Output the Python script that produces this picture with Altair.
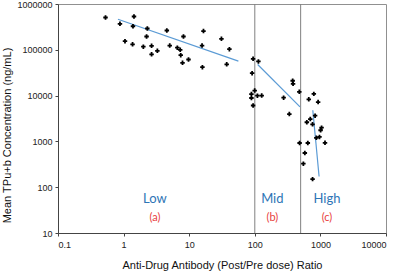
import altair as alt
import pandas as pd

# Low group points
low_x = [0.53, 0.88, 1.44, 1.39, 2.30, 4.56, 16.5, 8.18, 2.24, 31.0, 1.05, 1.37, 2.00,
         2.67, 5.05, 6.59, 7.29, 15.7, 41.0, 3.27, 2.67, 7.43, 9.76, 7.91, 15.9, 37.3]
low_y = [507000, 370000, 533000, 327000, 292000, 264000, 257000, 195000, 195000, 174000,
         154000, 132000, 117000, 122000, 124000, 111000, 100000, 124000, 103000, 95000,
         79800, 76200, 61400, 52000, 41700, 48200]
# Mid group points
mid_x = [94.2, 113.5, 91.0, 99.6, 88.8, 88.8, 109.6, 127.4, 94.2, 275, 378, 383, 477, 336]
mid_y = [63500, 55600, 30800, 12900, 10800, 8870, 9950, 10000, 6080, 9000, 21100, 18100,
         12100, 3960]
# High group points
high_x = [794, 665, 923, 830, 701, 621, 759, 1042, 1007, 867, 968, 482, 643, 1175, 579, 550, 760]
high_y = [10900, 8300, 7240, 3640, 3080, 2620, 2360, 1990, 1750, 1200, 1250, 923, 923, 931,
          558, 326, 150]

# Trend line segments (start, end)
trend_group = ["Low", "Low", "Mid", "Mid", "High", "High"]
trend_x = [0.82, 56.2, 110.6, 489, 766, 955]
trend_y = [465000, 56400, 47700, 5690, 4800, 171]

# Boundaries
bound_x = [100, 500]

# Region labels
region_names = ["Low", "Mid", "High"]
region_letters = ["(a)", "(b)", "(c)"]
region_x = [3.0, 185, 1259]
name_y = [56.6, 56.6, 56.6]
letter_y = [21.5, 21.5, 21.5]

x_ticks = [0.1, 1, 10, 100, 1000, 10000]
y_ticks = [10, 100, 1000, 10000, 100000, 1000000]

pts = pd.DataFrame({"x": low_x + mid_x + high_x, "y": low_y + mid_y + high_y})
trend = pd.DataFrame({"g": trend_group, "x": trend_x, "y": trend_y})
bounds = pd.DataFrame({"x": bound_x})
names = pd.DataFrame({"x": region_x, "y": name_y, "t": region_names})
letters = pd.DataFrame({"x": region_x, "y": letter_y, "t": region_letters})

FONT = "Liberation Sans"

xscale = alt.Scale(type="log", domain=[0.1, 10000], nice=False)
yscale = alt.Scale(type="log", domain=[10, 1000000], nice=False)

xax = alt.Axis(values=x_ticks, labelExpr="toString(datum.value)", grid=False,
               title="Anti-Drug Antibody (Post/Pre dose) Ratio", titleFont=FONT,
               titleFontSize=11, titleFontWeight="normal", titleColor="#111",
               labelFont=FONT, labelFontSize=9, labelColor="#222", tickSize=3,
               tickColor="#444", domainColor="#444", titlePadding=10, labelPadding=4)
yax = alt.Axis(values=y_ticks, labelExpr="toString(datum.value)", grid=False,
               title="Mean TPu+b Concentration (ng/mL)", titleFont=FONT,
               titleFontSize=11, titleFontWeight="normal", titleColor="#111",
               titleX=-46, titleY=131, titleAngle=-90, titleAlign="center",
               titleBaseline="bottom",
               labelFont=FONT, labelFontSize=9, labelColor="#222", tickSize=3,
               tickColor="#444", domainColor="#444", labelPadding=3)

rules = alt.Chart(bounds).mark_rule(color="#808080", strokeWidth=1).encode(
    x=alt.X("x:Q", scale=xscale, axis=xax))

lines = alt.Chart(trend).mark_line(color="#5B9BD5", strokeWidth=1.2).encode(
    x=alt.X("x:Q", scale=xscale, axis=xax),
    y=alt.Y("y:Q", scale=yscale, axis=yax),
    detail="g:N")

points = alt.Chart(pts).mark_point(shape="cross", filled=True, size=20, color="black",
                                   opacity=1).encode(
    x=alt.X("x:Q", scale=xscale, axis=xax),
    y=alt.Y("y:Q", scale=yscale, axis=yax))

name_text = alt.Chart(names).mark_text(font="Lato", fontSize=13, color="#2E75B6").encode(
    x=alt.X("x:Q", scale=xscale), y=alt.Y("y:Q", scale=yscale), text="t:N")

letter_text = alt.Chart(letters).mark_text(font="Lato", fontSize=11, color="#E8413E").encode(
    x=alt.X("x:Q", scale=xscale), y=alt.Y("y:Q", scale=yscale), text="t:N")

chart = alt.layer(rules, lines, points, name_text, letter_text).properties(
    width=328, height=229,
    autosize=alt.AutoSizeParams(type="none"),
    padding={"left": 58, "top": 4, "right": 14, "bottom": 39},
    background="white",
).configure_view(stroke="#909090", strokeWidth=1)

chart.save("out.html", embed_options={"renderer": "svg", "actions": False})
